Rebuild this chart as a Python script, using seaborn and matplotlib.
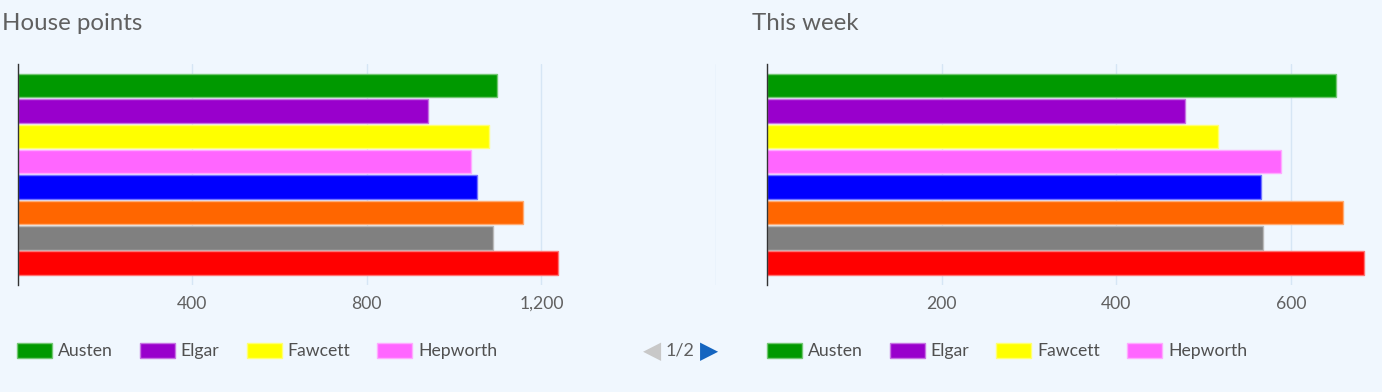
import matplotlib
matplotlib.use("Agg")
import matplotlib.pyplot as plt
import matplotlib.colors as mcolors
from matplotlib.patches import Patch
import seaborn as sns
import pandas as pd

houses = ["Austen", "Elgar", "Fawcett", "Hepworth", "House 5", "House 6", "House 7", "House 8"]
colors = ["#009900", "#9900cc", "#ffff00", "#ff66ff", "#0000ff", "#ff6600", "#808080", "#ff0000"]
total_points = [1098, 940, 1080, 1038, 1052, 1158, 1090, 1238]
week_points = [651, 479, 516, 588, 565, 660, 568, 683]
titles = ["House points", "This week"]
legend_shown = houses[:4]
pager_text = "1/2"

BG = "#f0f7fe"
W, H = 1382, 392

sns.set_theme(style="white")
plt.rcParams["font.family"] = ["Lato", "DejaVu Sans"]

fig = plt.figure(figsize=(W / 100, H / 100), dpi=100)
fig.patch.set_facecolor(BG)

def lighten(c, f=0.4):
    r, g, b = mcolors.to_rgb(c)
    return (r + (1 - r) * f, g + (1 - g) * f, b + (1 - b) * f)

panels = [
    (total_points, 1600, 400, 17.5),
    (week_points, 800, 200, 767.2),
]

plot_w = 698.5
top_px, bot_px = 64, 285
LEG_FS = 12.7
fpx = LEG_FS * 100 / 72

for i, (vals, xmax, step, x0) in enumerate(panels):
    ax = fig.add_axes([x0 / W, (H - bot_px) / H, plot_w / W, (bot_px - top_px) / H])
    ax.set_facecolor(BG)
    df = pd.DataFrame({"house": houses, "points": vals})
    sns.barplot(data=df, y="house", x="points", hue="house", palette=colors,
                order=houses, hue_order=houses, ax=ax, legend=False,
                width=0.93, orient="h", saturation=1)
    for p, c in zip(ax.patches, colors):
        p.set_edgecolor(lighten(c, 0.45))
        p.set_linewidth(1)
    ax.set_xlim(0, xmax)
    ax.set_ylim(7.86, -0.85)
    ticks = list(range(0, xmax + 1, step))
    ax.set_xticks(ticks)
    ax.set_xticklabels(["" if (t == 0 or t == xmax) else f"{t:,}" for t in ticks])
    ax.set_yticks([])
    ax.set_xlabel("")
    ax.set_ylabel("")
    ax.grid(axis="x", color="#d6e6f5", linewidth=1)
    ax.set_axisbelow(True)
    for s in ["top", "right", "bottom"]:
        ax.spines[s].set_visible(False)
    ax.spines["left"].set_color("#333333")
    ax.spines["left"].set_linewidth(1)
    ax.spines["left"].set_zorder(5)
    ax.tick_params(axis="x", length=0, pad=8, labelsize=12.6, labelcolor="#606060")

    off = x0 - 17.5
    fig.text((2 + off) / W, 1 - 24 / H, titles[i], fontsize=17.3, color="#606060",
             va="center", ha="left")

    handles = [Patch(facecolor=c, edgecolor=lighten(c, 0.45), linewidth=1) for c in colors[:4]]
    fig.legend(handles, legend_shown, loc="center left",
               bbox_to_anchor=((17 + off) / W, 1 - 351 / H), bbox_transform=fig.transFigure,
               ncol=4, frameon=False, fontsize=LEG_FS, handlelength=35 / fpx,
               handleheight=17 / fpx, handletextpad=6 / fpx, columnspacing=27 / fpx,
               borderpad=0, borderaxespad=0, labelcolor="#505050")

# pager (only the first panel's pager is inside the picture)
fig.text(652 / W, 1 - 351 / H, "\u25C0", fontsize=17, color="#c8c8c8",
         ha="center", va="center", family="DejaVu Sans")
fig.text(680 / W, 1 - 351 / H, pager_text, fontsize=13, color="#606060",
         ha="center", va="center")
fig.text(709 / W, 1 - 351 / H, "\u25B6", fontsize=17, color="#1565c0",
         ha="center", va="center", family="DejaVu Sans")

fig.savefig("out.png", dpi=100, facecolor=BG)
